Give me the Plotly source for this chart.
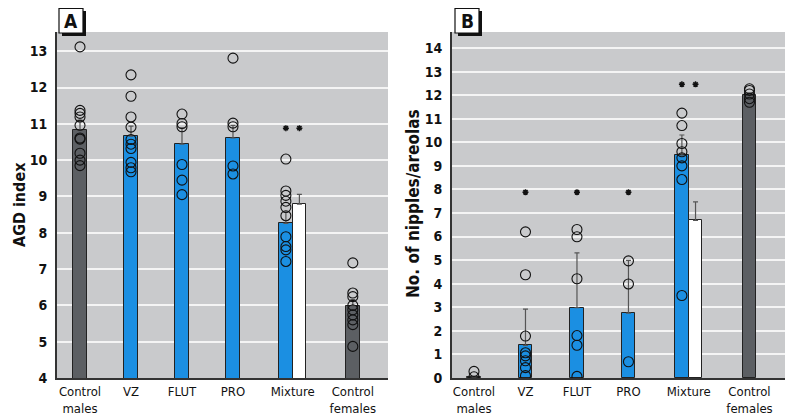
import plotly.graph_objects as go

# ---------------- data ----------------
categories = ["Control<br>males", "VZ", "FLUT", "PRO", "Mixture", "Control<br>females"]
cat_pos = [0, 1, 2, 3, 4.17, 5.35]

# Panel A: AGD index
agd_means = [10.83, 10.66, 10.44, 10.61, 8.26, 5.99]
agd_err = [0.27, 0.28, 0.45, 0.35, 0.3, 0.17]
agd_mix_white_mean = 8.79
agd_mix_white_err = 0.27
agd_points = [
    [13.12, 11.37, 11.29, 11.19, 10.96, 10.61, 10.58, 10.19, 10.0, 9.85],
    [12.35, 11.76, 11.19, 10.91, 10.57, 10.44, 10.32, 9.94, 9.79, 9.68],
    [11.27, 11.01, 10.92, 9.88, 9.45, 9.05],
    [12.81, 11.02, 10.92, 9.84, 9.62],
    [10.03, 9.15, 9.03, 8.87, 8.7, 8.47, 7.89, 7.62, 7.53, 7.21],
    [7.17, 6.34, 6.24, 6.0, 5.88, 5.74, 5.6, 5.47, 4.87],
]
agd_star_y = 10.88

# Panel B: nipples/areolas
nip_means = [0.05, 1.38, 2.99, 2.75, 9.45, 12.0]
nip_err = [0.0, 1.54, 2.32, 2.24, 0.86, 0.1]
nip_mix_white_mean = 6.69
nip_mix_white_err = 0.78
nip_points = [
    [0.28, 0.05],
    [6.2, 4.38, 1.78, 1.07, 0.94, 0.73, 0.44, 0.1],
    [6.3, 5.99, 4.21, 1.8, 1.39, 0.07],
    [4.97, 3.99, 0.69],
    [11.24, 10.71, 9.95, 9.6, 9.34, 9.0, 8.42, 3.5],
    [12.27, 12.2, 12.05, 11.85, 11.7],
]
nip_star_single_y = 7.88
nip_star_mix_y = 12.46

bar_colors = ["#5c5f63", "#1b8fe2", "#1b8fe2", "#1b8fe2", "#1b8fe2", "#5c5f63"]

# ---------------- figure ----------------
W, H = 794, 417
BG = "#c9cacc"
FONT = "DejaVu Sans Condensed, Liberation Sans Narrow, Arial Narrow, sans-serif"
BW = 0.265


def PX(X):
    return X / W


def PY(Y):
    return (H - Y) / H


fig = go.Figure()


def add_panel(xa, ya, means, errs, wmean, werr, points, blue_idx=4):
    xs = list(cat_pos)
    bx = [x - BW / 2 if i == blue_idx else x for i, x in enumerate(xs)]
    fig.add_trace(go.Bar(
        x=bx, y=means, width=BW, marker=dict(color=bar_colors, line=dict(color="#222", width=1)),
        error_y=dict(type="data", array=errs, arrayminus=[0] * len(errs), color="#555", thickness=1.2, width=2.5),
        xaxis=xa, yaxis=ya, showlegend=False,
    ))
    fig.add_trace(go.Bar(
        x=[xs[blue_idx] + BW / 2], y=[wmean], width=BW,
        marker=dict(color="white", line=dict(color="#222", width=1)),
        error_y=dict(type="data", array=[werr], arrayminus=[0], color="#555", thickness=1.2, width=2.5),
        xaxis=xa, yaxis=ya, showlegend=False,
    ))
    px, py = [], []
    for i, pts in enumerate(points):
        for v in pts:
            px.append(bx[i])
            py.append(v)
    fig.add_trace(go.Scatter(
        x=px, y=py, mode="markers", xaxis=xa, yaxis=ya, showlegend=False,
        marker=dict(symbol="circle-open", size=10, color="#111", line=dict(width=1.1)),
    ))
    return bx


bxA = add_panel("x", "y", agd_means, agd_err, agd_mix_white_mean, agd_mix_white_err, agd_points)
bxB = add_panel("x2", "y2", nip_means, nip_err, nip_mix_white_mean, nip_mix_white_err, nip_points)

star = dict(symbol="asterisk-open", size=5, color="#111", line=dict(width=1.5, color="#111"))
fig.add_trace(go.Scatter(
    x=[bxA[4], cat_pos[4] + BW / 2], y=[agd_star_y, agd_star_y], mode="markers", xaxis="x", yaxis="y",
    showlegend=False, marker=star,
))
fig.add_trace(go.Scatter(
    x=[bxB[1], bxB[2], bxB[3], bxB[4], cat_pos[4] + BW / 2],
    y=[nip_star_single_y] * 3 + [nip_star_mix_y] * 2, mode="markers", xaxis="x2", yaxis="y2",
    showlegend=False, marker=star,
))

ybot, ytop = PY(378), PY(32)

common_x = dict(
    tickmode="array", tickvals=cat_pos, ticktext=categories, showgrid=False, zeroline=False,
    showline=True, linecolor="#333", linewidth=2, ticks="", ticklabelstandoff=0, automargin=False,
    tickfont=dict(family=FONT, size=13, color="#111"),
)
common_y = dict(
    dtick=1, showgrid=True, gridcolor="#f4f4f4", gridwidth=1.5, zeroline=False,
    showline=True, linecolor="#333", linewidth=2, ticks="", ticklabelstandoff=5, automargin=False,
    tickfont=dict(family=FONT, size=14, color="#111", weight="bold"),
)

fig.update_layout(
    width=W, height=H, margin=dict(l=0, r=0, t=0, b=0, autoexpand=False),
    paper_bgcolor="white", plot_bgcolor=BG, barmode="overlay", bargap=0,
    xaxis=dict(domain=[PX(57), PX(388)], range=[-0.451, 6.04], anchor="y", **common_x),
    yaxis=dict(domain=[ybot, ytop], range=[4, 13.53], anchor="x", tick0=4, **common_y),
    xaxis2=dict(domain=[PX(452), PX(785)], range=[-0.427, 6.04], anchor="y2", **common_x),
    yaxis2=dict(domain=[ybot, ytop], range=[0, 14.68], anchor="x2", tick0=0, **common_y),
    font=dict(family=FONT, color="#111"),
)

# axis titles
fig.add_annotation(text="AGD index", x=PX(19), y=PY(205), xref="paper", yref="paper",
                   xanchor="center", yanchor="middle", textangle=-90, showarrow=False,
                   font=dict(family=FONT, size=16, color="#111", weight="bold"))
fig.add_annotation(text="No. of nipples/areolas", x=PX(413), y=PY(204), xref="paper", yref="paper",
                   xanchor="center", yanchor="middle", textangle=-90, showarrow=False,
                   font=dict(family=FONT, size=17, color="#111", weight="bold"))

# panel label boxes with shadow
for lab, x0 in (("A", 59), ("B", 455)):
    x1 = x0 + 24
    y0, y1 = 8, 33
    fig.add_shape(type="rect", xref="paper", yref="paper", x0=PX(x0 + 3), x1=PX(x1 + 3),
                  y0=PY(y1 + 3), y1=PY(y0 + 3), fillcolor="#111", line=dict(width=0), layer="above")
    fig.add_shape(type="rect", xref="paper", yref="paper", x0=PX(x0), x1=PX(x1),
                  y0=PY(y1), y1=PY(y0 + 0.5), fillcolor="white", line=dict(color="#111", width=1.2),
                  layer="above")
    fig.add_annotation(text=lab, x=PX((x0 + x1) / 2), y=PY((y0 + y1) / 2), xref="paper",
                       yref="paper", xanchor="center", yanchor="middle", showarrow=False,
                       font=dict(family=FONT, size=19, color="#111", weight="bold"))

fig.write_html(
    "out.html",
    config={"displayModeBar": False, "responsive": False},
    post_script="document.body.style.margin='0';document.body.style.overflow='hidden';",
)
